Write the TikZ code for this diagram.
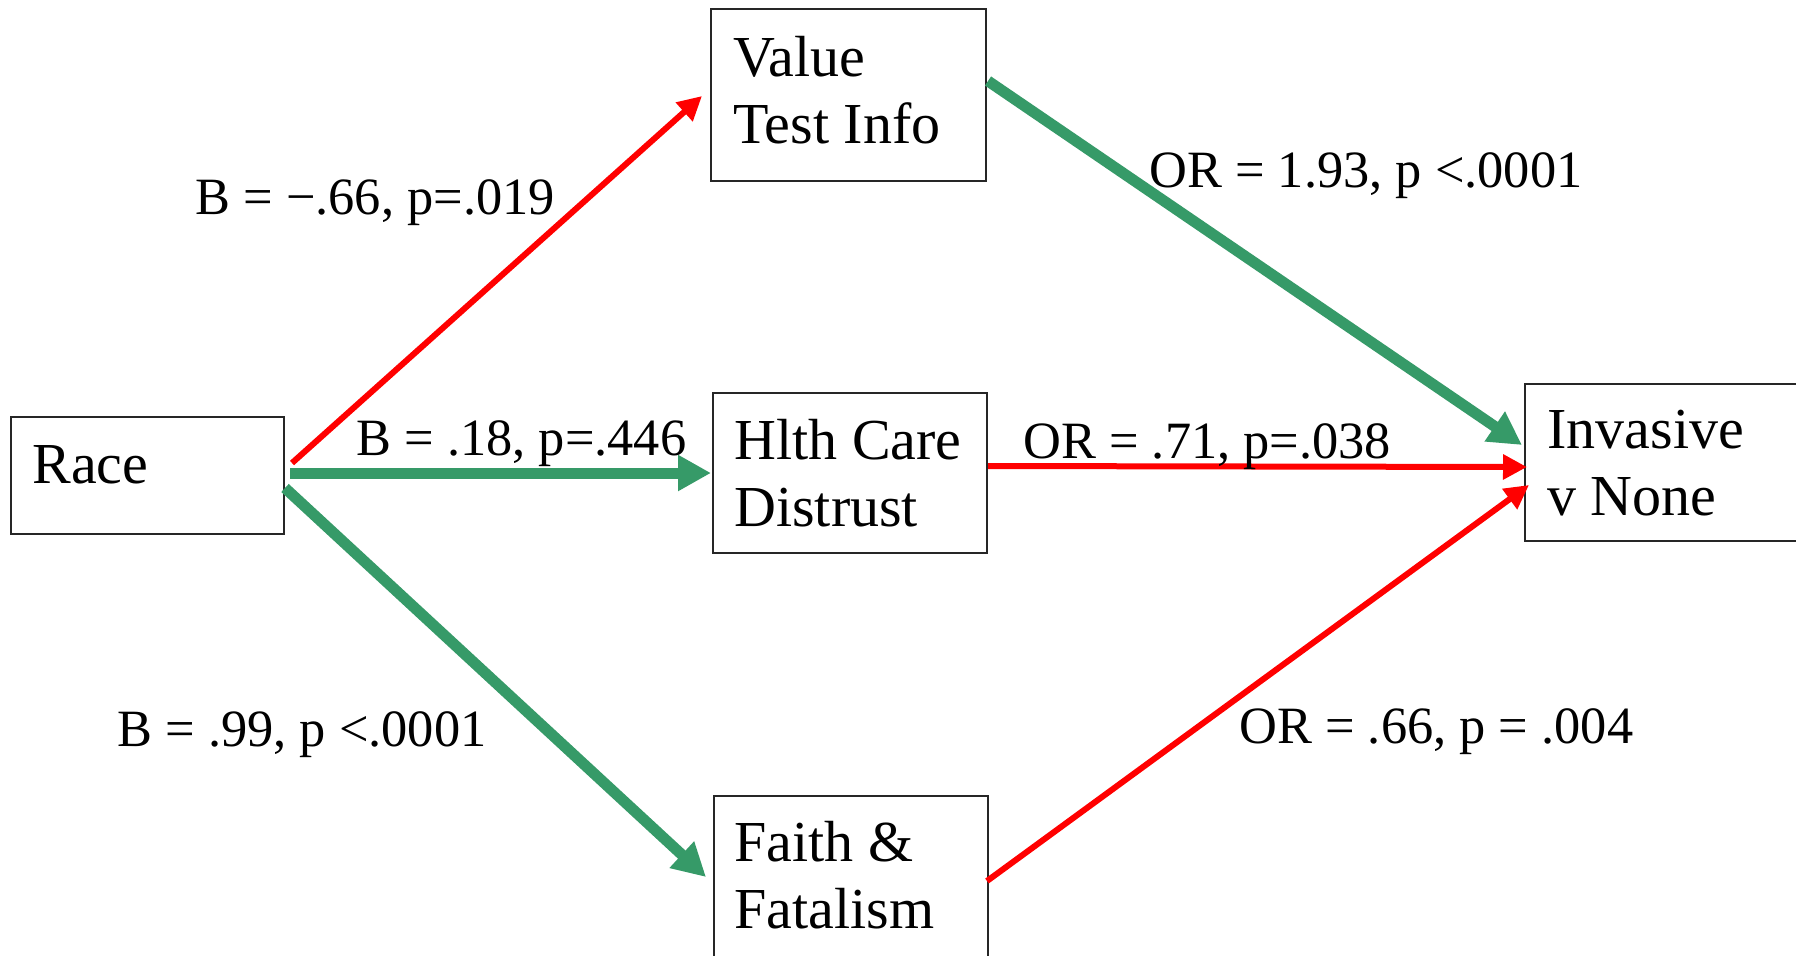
\documentclass[tikz,border=0pt]{standalone}
\usepackage{fontspec}
\setmainfont{Liberation Serif}
\usetikzlibrary{arrows.meta}
\definecolor{pgreen}{RGB}{54,154,104}
\definecolor{pred}{RGB}{255,0,0}
\tikzset{
  box/.style={draw=black!85, line width=1pt, rectangle, inner sep=0pt},
  boxtext/.style={anchor=base west, inner sep=0pt, align=left,
    font=\fontsize{29}{33.5}\selectfont},
  lbl/.style={anchor=base west, inner sep=0pt, font=\fontsize{26.2}{31}\selectfont},
  grn/.style={draw=pgreen, line width=5.5pt, -{Triangle[length=16.5pt,width=17pt]}, color=pgreen},
  rd/.style={draw=pred, line width=3pt, -{Triangle[length=12pt,width=12pt]}, color=pred}
}
\begin{document}
\begin{tikzpicture}[x=0.5pt,y=-0.5pt]
\clip (0,0) rectangle (1796,955);
\fill[white] (0,0) rectangle (1796,955);
% boxes
\node[box, minimum width=136.5pt, minimum height=58.5pt] (race) at (147.5,475.5) {};
\node[box, minimum width=137.5pt, minimum height=86pt] (value) at (848.5,95) {};
\node[box, minimum width=137pt, minimum height=80pt] (hlth) at (850,473) {};
\node[box, minimum width=137pt, minimum height=102pt] (faith) at (851,898) {};
\node[box, minimum width=137.5pt, minimum height=78.5pt] (inv) at (1662.5,462.5) {};
% box texts (base = baseline of last line)
\node[boxtext] (raceT) at (32,483) {Race};
\node[boxtext] (valueT) at (733,143) {Value\\Test Info};
\node[boxtext] (hlthT) at (734,526) {Hlth Care\\Distrust};
\node[boxtext] (faithT) at (734,928) {Faith \&\\Fatalism};
\node[boxtext] (invT) at (1547,515) {Invasive\\v None};
% connectors
\draw[rd] ([shift={(7,-12.5)}]race.east) -- ([shift={(-8,1)}]value.west);
\draw[grn] ([shift={(5,-2.5)}]race.east) -- ([shift={(-1,0)}]hlth.west);
\draw[grn] ([shift={(0,12.5)}]race.east) -- ([shift={(-7,-21)}]faith.west);
\draw[grn] ([shift={(1,-14)}]value.east) -- ([shift={(-2,-17.5)}]inv.west);
\draw[rd] ([shift={(0,-7)}]hlth.east) -- ([shift={(3,4.5)}]inv.west);
\draw[rd] ([shift={(-2,-17)}]faith.east) -- ([shift={(5,22.5)}]inv.west);
% labels
\node[lbl] (l1) at (195,214) {B = −.66, p=.019};
\node[lbl] (l2) at (356,455) {B = .18, p=.446};
\node[lbl] (l3) at (117,746) {B = .99, p <.0001};
\node[lbl] (l4) at (1149,187) {OR = 1.93, p <.0001};
\node[lbl] (l5) at (1023,458) {OR = .71, p=.038};
\node[lbl] (l6) at (1239,743) {OR = .66, p = .004};
\end{tikzpicture}
\end{document}
